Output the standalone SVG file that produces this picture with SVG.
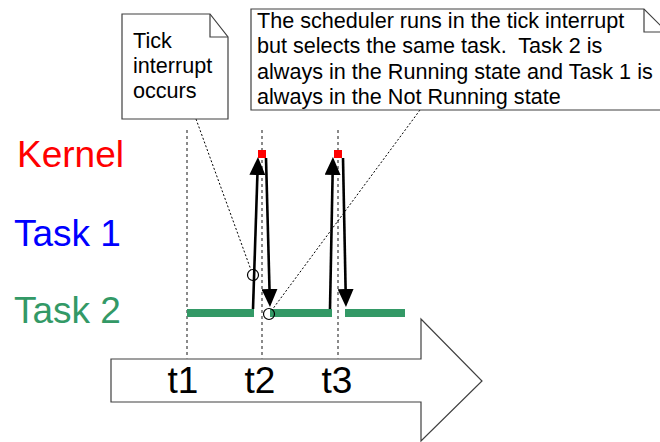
<svg xmlns="http://www.w3.org/2000/svg" width="660" height="442" viewBox="0 0 660 442">
<style>
text{font-family:"Liberation Sans",Arial,Helvetica,sans-serif;white-space:pre;}
.note{fill:#fff;stroke:#404040;stroke-width:1.2;}
.fold{fill:none;stroke:#404040;stroke-width:1.2;}
.ntxt{font-size:21.6px;fill:#000;}
.lbl{font-size:37px;}
.tlbl{font-size:37px;fill:#000;}
.grid{stroke:#8a8a8a;stroke-width:2;stroke-dasharray:3 3;}
.bar{fill:#339966;}
.arr{stroke:#000;stroke-width:2.6;fill:none;}
.sq{fill:#ff0000;}
.ring{fill:none;stroke:#000;stroke-width:1.2;}
.lead{stroke:#000;stroke-width:1;stroke-dasharray:2 2;fill:none;}
</style>
<defs>
<marker id="ah" markerUnits="userSpaceOnUse" markerWidth="18" markerHeight="16" refX="0" refY="8" orient="auto" viewBox="0 0 18 16">
<path d="M0,0 L18,8 L0,16 Z" fill="#000"/>
</marker>
</defs>
<rect width="660" height="442" fill="#fff"/>
<g id="timeline">
<polygon class="note" points="111,359 421,359 421,319 482,381 421,441 421,402 111,402"/>
<text class="tlbl" x="167.5" y="393">t1</text>
<text class="tlbl" x="244.5" y="393">t2</text>
<text class="tlbl" x="321.5" y="393">t3</text>
</g>
<g id="gridlines">
<line class="grid" x1="187" y1="130" x2="187" y2="359"/>
<line class="grid" x1="262" y1="130" x2="262" y2="359"/>
<line class="grid" x1="338" y1="130" x2="338" y2="359"/>
</g>
<g id="labels">
<text class="lbl" x="17" y="167" fill="#ff0000">Kernel</text>
<text class="lbl" x="14" y="246" fill="#0000ff">Task 1</text>
<text class="lbl" x="14" y="323" fill="#339966">Task 2</text>
</g>
<g id="task2-bars">
<rect class="bar" x="187" y="309" width="67" height="8"/>
<rect class="bar" x="270" y="309" width="62" height="8"/>
<rect class="bar" x="345" y="309" width="60" height="8"/>
</g>
<g id="connectors">
<line class="arr" x1="253" y1="309" x2="257.4" y2="175" marker-end="url(#ah)"/>
<line class="arr" x1="266" y1="158" x2="269.5" y2="289" marker-end="url(#ah)"/>
<line class="arr" x1="330" y1="309" x2="332.6" y2="175" marker-end="url(#ah)"/>
<line class="arr" x1="343" y1="158" x2="345.6" y2="289" marker-end="url(#ah)"/>
<line class="lead" x1="196" y1="119" x2="251" y2="270"/>
<line class="lead" x1="420" y1="110" x2="272" y2="310"/>
</g>
<g id="kernel-points">
<rect class="sq" x="258" y="150" width="8" height="8"/>
<rect class="sq" x="334" y="150" width="8" height="8"/>
</g>
<g id="markers">
<circle class="ring" cx="253" cy="275" r="5.5"/>
<circle class="ring" cx="269" cy="314" r="5.5"/>
</g>
<g id="note-tick">
<path class="note" d="M122,14 H210 L228,37 V119 H122 Z"/>
<path class="fold" d="M210,14 V37 H228"/>
<text class="ntxt" x="133" y="47.5">Tick</text>
<text class="ntxt" x="133" y="72.5">interrupt</text>
<text class="ntxt" x="133" y="97.5">occurs</text>
</g>
<g id="note-scheduler">
<path class="note" d="M251,9 H644 L667,32 V110 H251 Z"/>
<path class="fold" d="M644,9 V32 H667"/>
<text class="ntxt" x="257" y="27.5">The scheduler runs in the tick interrupt</text>
<text class="ntxt" x="257" y="53">but selects the same task.  Task 2 is</text>
<text class="ntxt" x="257" y="78.5">always in the Running state and Task 1 is</text>
<text class="ntxt" x="257" y="104">always in the Not Running state</text>
</g>
</svg>
